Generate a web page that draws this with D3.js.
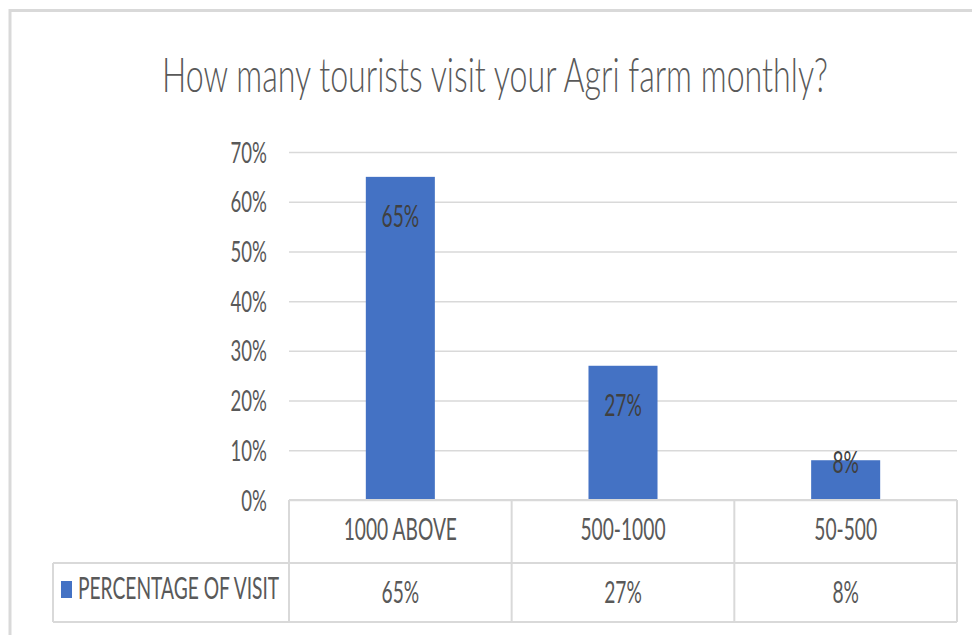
<!DOCTYPE html>
<html>
<head>
<meta charset="utf-8">
<script src="https://cdn.jsdelivr.net/npm/d3@7"></script>
<style>
  html, body { margin: 0; padding: 0; background: #fff; }
  svg { display: block; }
  text { font-family: Lato, "Open Sans", "Liberation Sans", sans-serif; }
</style>
</head>
<body>
<svg id="chart" width="972" height="635"></svg>
<script>
// Survey data
const title = "How many tourists visit your Agri farm monthly?";
const seriesName = "PERCENTAGE OF VISIT";
const categories = ["1000 ABOVE", "500-1000", "50-500"];
const values = [65, 27, 8];
const yTicks = [0, 10, 20, 30, 40, 50, 60, 70];

const W = 972, H = 635;
const barColor = "#4472C4";
const gridColor = "#d9d9d9";
const textColor = "#595959";
const sx = 0.64;      // horizontal squeeze for the narrow lettering
const sxTitle = 0.685;

const svg = d3.select("#chart");

// chart frame
svg.append("path")
  .attr("d", `M10,${H} L10,10.5 L${W},10.5`)
  .attr("fill", "none")
  .attr("stroke", gridColor)
  .attr("stroke-width", 3);

const plot = { left: 289, right: 957, top: 152, bottom: 500 };
const tableRow1 = 563, tableBottom = 622, legendLeft = 53;

const x = d3.scaleBand()
  .domain(categories)
  .range([plot.left, plot.right])
  .paddingInner(0.69)
  .paddingOuter(0.345);

const y = d3.scaleLinear()
  .domain([0, 70])
  .range([plot.bottom, plot.top]);

function label(g, str, px, py, size, color, anchor, k) {
  return g.append("text")
    .attr("transform", `translate(${px},${py}) scale(${k || sx},1)`)
    .attr("text-anchor", anchor || "middle")
    .attr("font-size", size)
    .attr("fill", color)
    .text(str);
}

// title
label(svg, title, 495, 92, 47, textColor, "middle", sxTitle).attr("font-weight", 300);

// y axis with gridlines
const yAxis = svg.append("g")
  .attr("transform", `translate(${plot.left},0)`)
  .call(d3.axisLeft(y)
    .tickValues(yTicks)
    .tickSize(-(plot.right - plot.left))
    .tickFormat(d => d + "%"));
yAxis.select(".domain").remove();
yAxis.selectAll(".tick line").attr("stroke", gridColor).attr("stroke-width", 1.5);
yAxis.selectAll(".tick text")
  .attr("x", null).attr("dy", null)
  .attr("transform", `translate(-22,10) scale(${sx},1)`)
  .attr("text-anchor", "end")
  .attr("font-size", 29)
  .attr("font-family", "Lato, 'Open Sans', 'Liberation Sans', sans-serif")
  .attr("fill", textColor);

// bars
const bars = svg.append("g");
bars.selectAll("rect")
  .data(values)
  .join("rect")
  .attr("x", (d, i) => x(categories[i]))
  .attr("y", d => y(d))
  .attr("width", x.bandwidth())
  .attr("height", d => y(0) - y(d))
  .attr("fill", barColor);

// value labels at the inside end of each bar
const dataLabels = svg.append("g");
values.forEach((v, i) => {
  const top = y(v);
  const h = y(0) - top;
  const cy = h > 80 ? top + 39 : top + 2;
  label(dataLabels, v + "%", x(categories[i]) + x.bandwidth() / 2, cy + 11, 30, "#404040");
});

// data table
const table = svg.append("g")
  .attr("stroke", gridColor)
  .attr("stroke-width", 2)
  .attr("fill", "none");
const step = x.step();
const colEdges = d3.range(categories.length + 1).map(i => plot.left + i * step);

table.append("line").attr("x1", plot.left).attr("x2", plot.right).attr("y1", plot.bottom).attr("y2", plot.bottom);
table.append("line").attr("x1", legendLeft).attr("x2", plot.right).attr("y1", tableRow1).attr("y2", tableRow1);
table.append("line").attr("x1", legendLeft).attr("x2", plot.right).attr("y1", tableBottom).attr("y2", tableBottom);
table.append("line").attr("x1", legendLeft).attr("x2", legendLeft).attr("y1", tableRow1).attr("y2", tableBottom);
colEdges.forEach(cx => {
  table.append("line").attr("x1", cx).attr("x2", cx).attr("y1", plot.bottom).attr("y2", tableBottom);
});

const tableText = svg.append("g");
categories.forEach((c, i) => {
  const cx = x(c) + x.bandwidth() / 2;
  label(tableText, c, cx, 540, 30, textColor);
  label(tableText, values[i] + "%", cx, 603, 30, textColor);
});

// legend key inside the table
svg.append("rect")
  .attr("x", 61).attr("y", 581)
  .attr("width", 11).attr("height", 17)
  .attr("fill", barColor);
label(tableText, seriesName, 78, 599, 30, textColor, "start");
</script>
</body>
</html>
